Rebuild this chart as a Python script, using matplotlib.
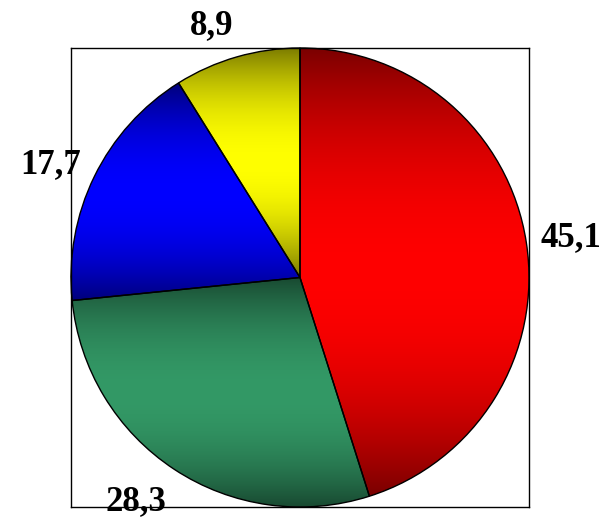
import numpy as np
import matplotlib
matplotlib.use("Agg")
import matplotlib.pyplot as plt
from matplotlib.colors import to_rgb

# slice data, clockwise from 12 o'clock
values = [45.1, 28.3, 17.7, 8.9]
labels = ["45,1", "28,3", "17,7", "8,9"]
colors = ["#ff0000", "#339966", "#0000ff", "#ffff00"]

# label centres in pie units (radius = 1)
label_xy = [(1.183, 0.19), (-0.716, -0.96), (-1.087, 0.51), (-0.384, 1.115)]


def shade_wedge(ax, wedge, color):
    """fill a wedge with a vertical gradient: dark at top/bottom, bright in the middle"""
    ext = wedge.get_path().get_extents(wedge.get_patch_transform())
    n = 256
    t = np.linspace(-1, 1, n)
    k = 1.0 - 0.52 * t ** 2
    rgb = np.array(to_rgb(color))
    img = (k[:, None] * rgb[None, :])[:, None, :]
    im = ax.imshow(img, extent=(ext.x0, ext.x1, ext.y0, ext.y1),
                   origin="lower", aspect="auto", interpolation="bilinear", zorder=1)
    im.set_clip_path(wedge)


fig = plt.figure(figsize=(6.05, 5.18), dpi=100)
ax = fig.add_axes([71 / 605, 11 / 518, 458 / 605, 459 / 518])

wedges, texts = ax.pie(values, labels=labels, startangle=90, counterclock=False,
                       labeldistance=1.2, radius=1.0,
                       wedgeprops=dict(facecolor="none", edgecolor="black", linewidth=1.0),
                       textprops=dict(fontsize=25, fontweight="bold", family="Liberation Serif"))
for w, c in zip(wedges, colors):
    w.set_zorder(2)
    shade_wedge(ax, w, c)
for t, xy in zip(texts, label_xy):
    t.set_position(xy)
    t.set_ha("center")
    t.set_va("center_baseline")
    t.set_clip_on(False)

ax.set_xlim(-1.0, 1.0)
ax.set_ylim(-1.0, 1.0)
ax.set_aspect("auto")
ax.set_xticks([])
ax.set_yticks([])
ax.set_frame_on(True)
for s in ax.spines.values():
    s.set_visible(True)
    s.set_linewidth(1.0)
    s.set_color("black")

fig.savefig("out.png", dpi=100)
